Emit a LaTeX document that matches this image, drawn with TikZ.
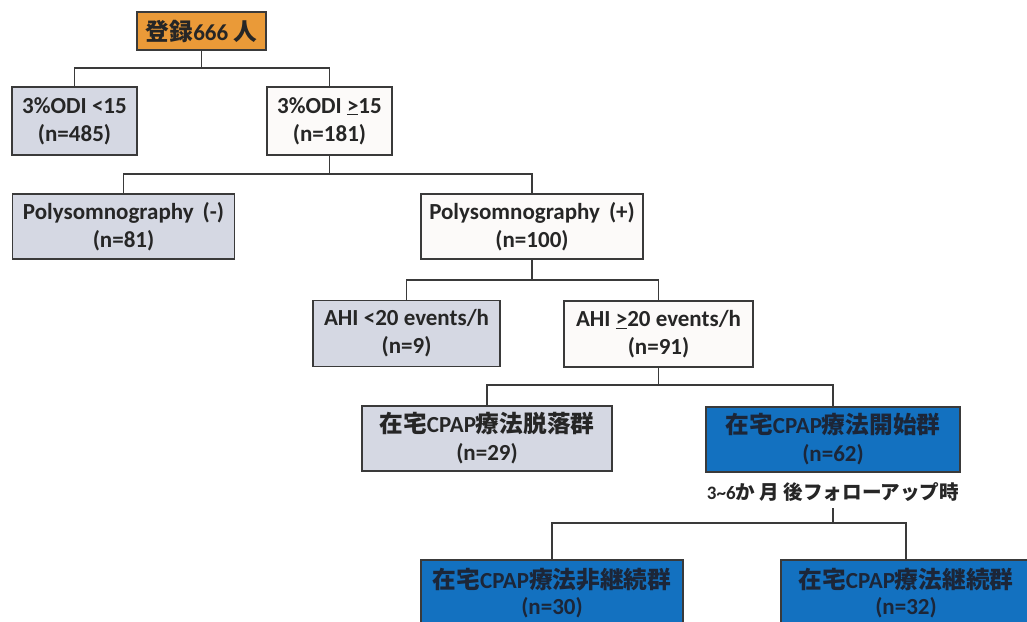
\documentclass[tikz,border=0pt]{standalone}
\usepackage{fontspec}
\setmainfont{Carlito}
\newfontfamily\cjk{Noto Sans CJK JP}[Scale=1.03]
\newcommand\J[1]{{\cjk\bfseries #1}}
\definecolor{txt}{HTML}{262626}
\definecolor{bluetxt}{HTML}{1C2638}
\definecolor{edge}{HTML}{3A3A3A}
\definecolor{orangefill}{HTML}{EA9A38}
\definecolor{grayfill}{HTML}{D5D8E3}
\definecolor{whitefill}{HTML}{FCFAF9}
\definecolor{bluefill}{HTML}{1371C0}
\tikzset{
  box/.style={draw=edge, line width=1.2pt, align=center, inner sep=0pt,
    font=\fontsize{23}{28}\selectfont\bfseries, text=txt},
  orangebox/.style={box, fill=orangefill},
  graybox/.style={box, fill=grayfill},
  whitebox/.style={box, fill=whitefill},
  bluebox/.style={box, fill=bluefill, text=bluetxt},
  lowbox/.style={bluebox, font=\fontsize{23}{26}\selectfont\bfseries},
  conn/.style={draw=edge, line width=1.2pt},
  note/.style={font=\fontsize{19}{22}\selectfont\bfseries, text=txt, inner sep=0pt}
}
\begin{document}
\begin{tikzpicture}[x=1pt,y=-1pt]
\useasboundingbox (0,0) rectangle (1027,621);
\clip (0,0) rectangle (1027,621);
\fill[white] (0,0) rectangle (1027,621);

\node[orangebox, minimum width=129, minimum height=38] (reg) at (201.5,31) {\J{登録}666 \J{人}};
\node[graybox, minimum width=125, minimum height=68] (odi1) at (74.5,121) {3\%ODI <15\\(n=485)};
\node[whitebox, minimum width=125, minimum height=68] (odi2) at (329.5,121) {3\%ODI \underline{>}15\\(n=181)};
\node[graybox, minimum width=222, minimum height=65] (psgm) at (123.5,226.5) {Polysomnography\, (-)\\(n=81)};
\node[whitebox, minimum width=222, minimum height=65] (psgp) at (532,226.5) {Polysomnography\, (+)\\(n=100)};
\node[graybox, minimum width=187, minimum height=66] (ahi1) at (406.5,333.5) {AHI <20 events/h\\(n=9)};
\node[whitebox, minimum width=189, minimum height=66] (ahi2) at (658.5,334) {AHI \underline{>}20 events/h\\(n=91)};
\node[graybox, minimum width=250, minimum height=65] (drop) at (487,438.5) {\J{在宅}CPAP\J{療法脱落群}\\(n=29)};
\node[bluebox, minimum width=254, minimum height=65] (start) at (833,439.5) {\J{在宅}CPAP\J{療法開始群}\\(n=62)};
\node[note] (fu) at (833,492) {3\textasciitilde6\J{か 月 後フォローアップ時}};
\node[lowbox, minimum width=262, minimum height=66] (non) at (552,593) {\J{在宅}CPAP\J{療法非継続群}\\(n=30)};
\node[lowbox, minimum width=250, minimum height=66] (cont) at (906,593) {\J{在宅}CPAP\J{療法継続群}\\(n=32)};

\coordinate (j1) at (201.5,68);
\coordinate (j2) at (329.5,174);
\coordinate (j3) at (532,280);
\coordinate (j4) at (658.5,385);
\coordinate (j5) at (833,523);
\coordinate (fub) at (833,508);

\draw[conn] (reg.south) -- (j1) -| (odi1.north);
\draw[conn] (j1) -| (odi2.north);
\draw[conn] (odi2.south) -- (j2) -| (psgm.north);
\draw[conn] (j2) -| (psgp.north);
\draw[conn] (psgp.south) -- (j3) -| (ahi1.north);
\draw[conn] (j3) -| (ahi2.north);
\draw[conn] (ahi2.south) -- (j4) -| (drop.north);
\draw[conn] (j4) -| (start.north);
\draw[conn] (fub) -- (j5) -| (non.north);
\draw[conn] (j5) -| (cont.north);
\end{tikzpicture}
\end{document}
